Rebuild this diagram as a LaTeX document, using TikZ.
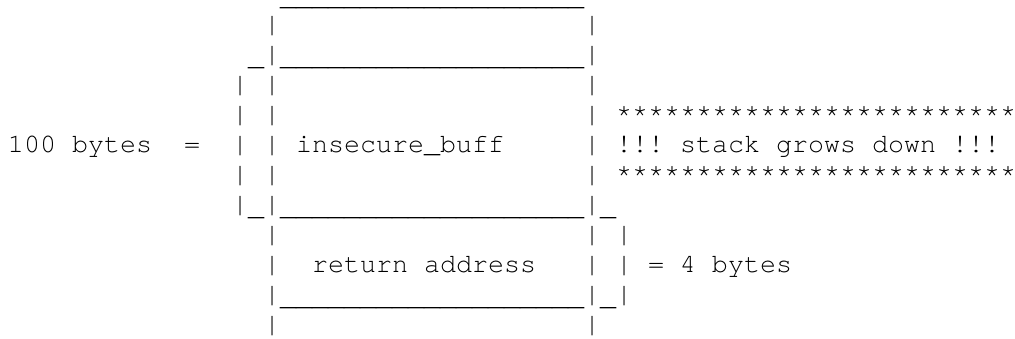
\documentclass[tikz,border=0pt]{standalone}
\usepackage{fontspec}
\setmonofont{texgyrecursor-regular.otf}[Ligatures=NoCommon]
\tikzset{
  art/.style={anchor=base west, inner sep=0pt, outer sep=0pt,
    font=\ttfamily\fontsize{26.667}{30}\selectfont, text=black},
  under/.style={art, yshift=-3pt},
}
\newcommand\artseg[4]{\node[art] (#1) at ({8+16*(#2)},{336-30*(#3)}) {\detokenize{#4}};}
\newcommand\artline[4]{\node[under] (#1) at ({8+16*(#2)},{336-30*(#3)}) {\detokenize{#4}};}
\begin{document}
\begin{tikzpicture}[x=1pt,y=1pt]
\fill[white] (0,0) rectangle (1015,339);
\useasboundingbox (0,0) rectangle (1015,339);
% row 0
\artline{topline}{17}{0}{___________________}
% row 1
\artseg{ra}{16}{1}{|}
\artseg{rb}{36}{1}{|}
% row 2
\artline{ua}{15}{2}{_}
\artseg{rc}{16}{2}{|}
\artline{ub}{17}{2}{___________________}
\artseg{rc2}{36}{2}{|}
% row 3
\artseg{rd}{14}{3}{|}
\artseg{re}{16}{3}{|}
\artseg{rf}{36}{3}{|}
% row 4
\artseg{rg}{14}{4}{|}
\artseg{rh}{16}{4}{|}
\artseg{ri}{36}{4}{|}
\artseg{starsA}{38}{4}{*************************}
% row 5
\artseg{hundred}{0}{5}{100 bytes}
\artseg{eqA}{11}{5}{=}
\artseg{rj}{14}{5}{|}
\artseg{rk}{16}{5}{|}
\artseg{buff}{18}{5}{insecure_buff}
\artseg{rl}{36}{5}{|}
\artseg{grows}{38}{5}{!!! stack grows down !!!}
% row 6
\artseg{rm}{14}{6}{|}
\artseg{rn}{16}{6}{|}
\artseg{ro}{36}{6}{|}
\artseg{starsB}{38}{6}{*************************}
% row 7
\artseg{rp}{14}{7}{|}
\artline{uc}{15}{7}{_}
\artseg{rp2}{16}{7}{|}
\artline{ud}{17}{7}{___________________}
\artseg{rp3}{36}{7}{|}
\artline{ue}{37}{7}{_}
% row 8
\artseg{rq}{16}{8}{|}
\artseg{rr}{36}{8}{|}
\artseg{rs}{38}{8}{|}
% row 9
\artseg{rt}{16}{9}{|}
\artseg{ret}{19}{9}{return address}
\artseg{ru}{36}{9}{|}
\artseg{rv}{38}{9}{|}
\artseg{four}{40}{9}{= 4 bytes}
% row 10
\artseg{rw}{16}{10}{|}
\artline{uf}{17}{10}{___________________}
\artseg{rw2}{36}{10}{|}
\artline{ug}{37}{10}{_}
\artseg{rw3}{38}{10}{|}
% row 11
\artseg{rx}{16}{11}{|}
\artseg{ry}{36}{11}{|}
\end{tikzpicture}
\end{document}
